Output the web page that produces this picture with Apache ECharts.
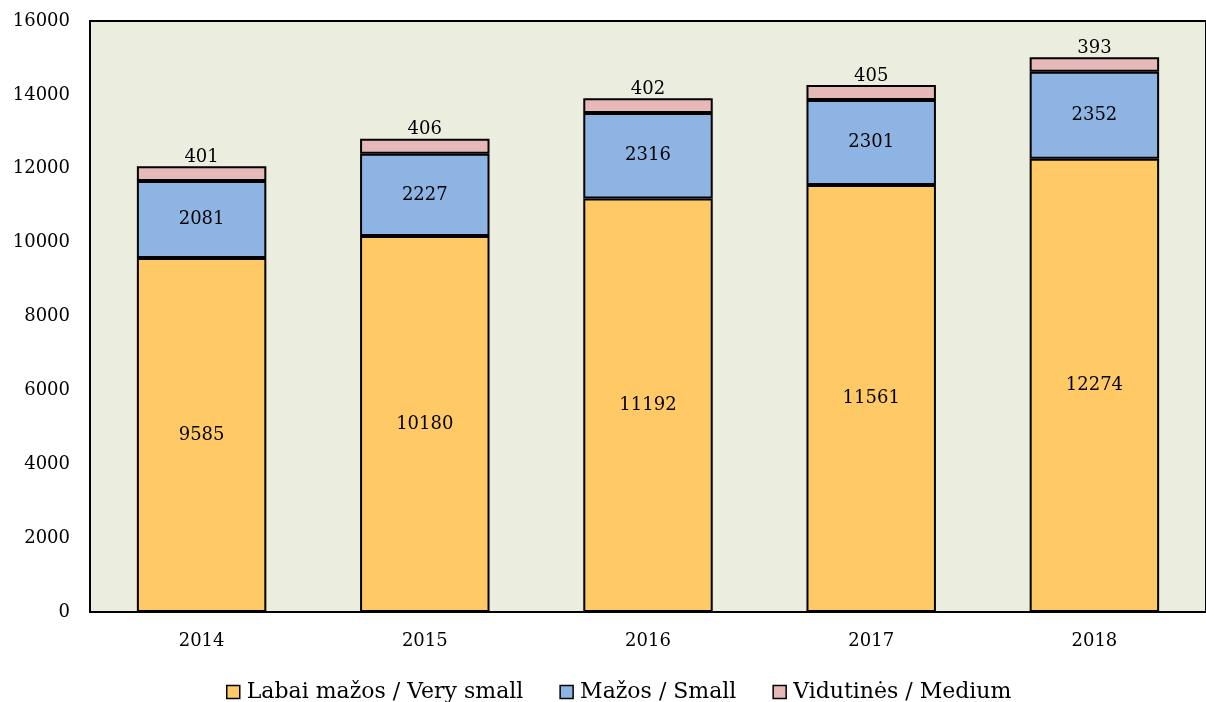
<!DOCTYPE html>
<html>
<head>
<meta charset="utf-8">
<script src="https://cdn.jsdelivr.net/npm/echarts@6/dist/echarts.min.js"></script>
<style>
  html, body { margin: 0; padding: 0; background: #ffffff; }
  #chart { width: 1206px; height: 702px; }
</style>
</head>
<body>
<div id="chart"></div>
<script>
// Enterprises by size class, 2014–2018
const years = ['2014', '2015', '2016', '2017', '2018'];
const verySmall = [9585, 10180, 11192, 11561, 12274];
const small = [2081, 2227, 2316, 2301, 2352];
const medium = [401, 406, 402, 405, 393];
const seriesNames = ['Labai mažos / Very small', 'Mažos / Small', 'Vidutinės / Medium'];

const serif = '"DejaVu Serif", "Liberation Serif", serif';

function barSeries(name, data, color, labelPos) {
  return {
    name: name,
    type: 'bar',
    stack: 'total',
    data: data,
    barWidth: '58%',
    itemStyle: { color: color, borderColor: '#000', borderWidth: 2 },
    label: {
      show: true,
      position: labelPos,
      distance: 0,
      color: '#000',
      fontFamily: serif,
      fontSize: 18
    }
  };
}

const chart = echarts.init(document.getElementById('chart'));
chart.setOption({
  animation: false,
  backgroundColor: '#ffffff',
  grid: {
    left: 90, right: -2, top: 21, bottom: 90,
    show: true,
    backgroundColor: '#EBEEDF',
    borderColor: '#000',
    borderWidth: 2
  },
  legend: {
    bottom: -6,
    left: 221,
    itemWidth: 13,
    itemHeight: 13,
    itemGap: 36,
    icon: 'rect',
    itemStyle: { borderColor: '#000', borderWidth: 1.5 },
    textStyle: { fontFamily: serif, fontSize: 22, color: '#000', padding: [0, 0, 0, 2] },
    data: seriesNames
  },
  xAxis: {
    type: 'category',
    data: years,
    axisLine: { lineStyle: { color: '#000', width: 2 } },
    axisTick: { show: false },
    axisLabel: { fontFamily: serif, fontSize: 18, color: '#000', margin: 20 }
  },
  yAxis: {
    type: 'value',
    min: 0,
    max: 16000,
    interval: 2000,
    axisLine: { show: true, lineStyle: { color: '#000', width: 2 } },
    axisTick: { show: false },
    splitLine: { show: false },
    axisLabel: {
      fontFamily: serif, fontSize: 18, color: '#000', margin: 20,
      formatter: function (v) { return String(v); }
    }
  },
  series: [
    barSeries(seriesNames[0], verySmall, '#FFCA66', 'inside'),
    barSeries(seriesNames[1], small, '#8EB4E3', 'inside'),
    barSeries(seriesNames[2], medium, '#E6B9B8', 'top')
  ]
});
</script>
</body>
</html>
